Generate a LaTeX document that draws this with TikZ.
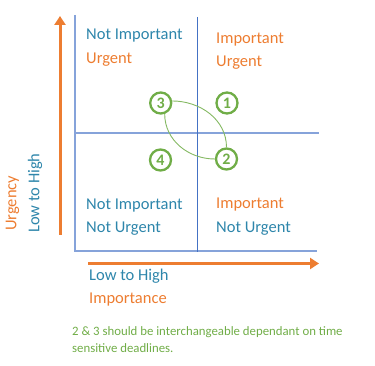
\documentclass[tikz,border=0pt]{standalone}
\usepackage{fontspec}
\setmainfont{Carlito}
\usetikzlibrary{arrows.meta}
\definecolor{ablue}{HTML}{2E86AB}
\definecolor{aorange}{HTML}{ED7D31}
\definecolor{agreen}{HTML}{70AD47}
\definecolor{glight}{HTML}{86A3DA}
\definecolor{gdark}{HTML}{4472C4}
\begin{document}
\begin{tikzpicture}[x=1pt,y=-1pt,
  lbl/.style={anchor=mid west,inner sep=0pt,font=\fontsize{16.5}{18}\selectfont},
  num/.style={circle,draw=agreen,line width=2.3pt,minimum size=21pt,inner sep=0pt,text=agreen,font=\fontsize{16}{18}\selectfont\bfseries},
  gridl/.style={draw=glight,line width=1.3pt},
  axarrow/.style={draw=aorange,line width=3pt,-{Triangle[length=9pt,width=11pt]}},
  arcl/.style={draw=agreen!85,line width=0.9pt},
  notel/.style={anchor=mid west,inner sep=0pt,text=agreen,font=\fontsize{12.8}{16}\selectfont}]
\useasboundingbox (0,0) rectangle (375,366);
% grid
\coordinate (gtl) at (75,15);
\coordinate (gbl) at (75,251);
\coordinate (mt) at (197,17);
\coordinate (mb) at (197,252);
\coordinate (hl) at (75,133);
\coordinate (hr) at (319,133);
\coordinate (br) at (317,251);
\draw[gridl] (gtl) -- (gbl) -- (br);
\draw[gridl] (hl) -- (hr);
\draw[draw=gdark,line width=1pt] (mt) -- (mb);
% axes
\coordinate (ua) at (60,235);
\coordinate (ub) at (60,16);
\coordinate (ra) at (88,263.5);
\coordinate (rb) at (319,263.5);
\draw[axarrow] (ua) -- (ub);
\draw[axarrow] (ra) -- (rb);
% quadrant labels
\node[lbl,text=ablue] (tl1) at (86,37) {Not Important};
\node[lbl,text=aorange] (tl2) at (86,61) {Urgent};
\node[lbl,text=aorange] (tr1) at (216,41) {Important};
\node[lbl,text=aorange] (tr2) at (216,64) {Urgent};
\node[lbl,text=ablue] (bl1) at (86,207) {Not Important};
\node[lbl,text=ablue] (bl2) at (86,230) {Not Urgent};
\node[lbl,text=aorange] (br1) at (216,206) {Important};
\node[lbl,text=ablue] (br2) at (216,230) {Not Urgent};
\node[lbl,text=ablue] (x1) at (89,278) {Low to High};
\node[lbl,text=aorange] (x2) at (89,301) {Importance};
\node[lbl,text=aorange,rotate=90] (y1) at (14,231) {Urgency};
\node[lbl,text=ablue,rotate=90] (y2) at (37,233) {Low to High};
% numbered circles
\node[num] (n3) at (160.7,103) {3};
\node[num] (n1) at (227,103) {1};
\node[num] (n4) at (160.5,160) {4};
\node[num] (n2) at (226.5,159) {2};
\draw[arcl] (n3.10) to[out=0,in=90] (n2.north);
\draw[arcl] (n3.-70) to[out=270,in=180] (n2.west);
% note
\node[notel] (note1) at (72,333) {2 \& 3 should be interchangeable dependant on time};
\node[notel] (note2) at (72,350) {sensitive deadlines.};
\end{tikzpicture}
\end{document}
